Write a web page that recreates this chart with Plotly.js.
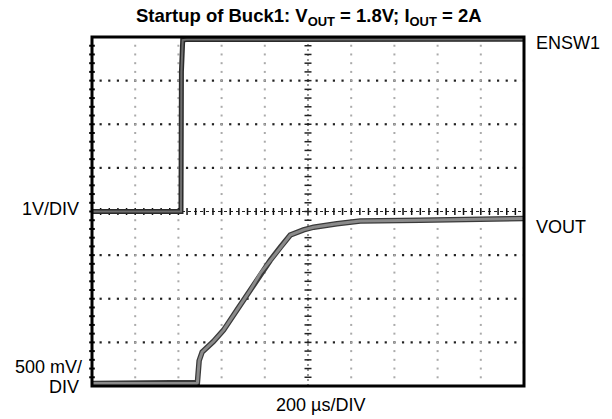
<!DOCTYPE html>
<html><head><meta charset="utf-8">
<script src="https://cdn.plot.ly/plotly-3.0.1.min.js"></script>
<style>html,body{margin:0;padding:0;background:#fff;}#c{width:612px;height:419px;}</style>
</head><body><div id="c"></div>
<script>
// Time base and channel scales
const TIME_PER_DIV = 200;          // µs/DIV
const ENSW1_SCALE = 1;             // V/DIV
const ENSW1_ZERO_DIV = 4;          // ground marker of ENSW1 (divisions from bottom)
const VOUT_SCALE = 0.5;            // V/DIV
const VOUT_ZERO_DIV = 0.06;        // ground marker of VOUT (divisions from bottom)

// ENSW1 waveform (µs, V)
const ensw1Time = [0, 412, 414, 420, 438, 2000];
const ensw1Volt = [0, 0, 3.2, 3.93, 3.94, 3.95];

// VOUT waveform (µs, V)
const voutTime = [0, 484, 488, 496, 510, 562, 609, 671, 733, 779, 825, 872, 918, 979, 1026, 1134, 1242, 1519, 2000];
const voutVolt = [0, 0, 0.01, 0.26, 0.36, 0.48, 0.61, 0.84, 1.07, 1.26, 1.41, 1.56, 1.70, 1.76, 1.79, 1.83, 1.86, 1.87, 1.89];

// Text
const titleText = 'Startup of Buck1: V<sub>OUT</sub> = 1.8V; I<sub>OUT</sub> = 2A';
const ensw1Label = 'ENSW1';
const voutLabel = 'VOUT';
const ensw1ScaleLabel = '1V/DIV';
const voutScaleLabel1 = '500 mV/';
const voutScaleLabel2 = 'DIV';
const timeLabel = '200 µs/DIV';

const NX = 10, NY = 8, SUB = 5;
const xmax = NX * TIME_PER_DIV;

const ensw1Div = ensw1Volt.map(v => v / ENSW1_SCALE + ENSW1_ZERO_DIV);
const voutDiv = voutVolt.map(v => v / VOUT_SCALE + VOUT_ZERO_DIV);

// graticule dots
const hx = [], hy = [], vx = [], vy = [];
for (let j = 1; j < NY; j++) {
  if (j === NY / 2) continue;
  for (let k = 0; k <= NX * SUB; k++) { hx.push(k * TIME_PER_DIV / SUB); hy.push(j); }
}
for (let i = 1; i < NX; i++) {
  if (i === NX / 2) continue;
  for (let k = 0; k <= NY * SUB; k++) { vx.push(i * TIME_PER_DIV); vy.push(k / SUB); }
}
const cxh = [], cyh = [], cxv = [], cyv = [];
for (let k = 0; k <= NX * SUB; k++) { cxh.push(k * TIME_PER_DIV / SUB); cyh.push(NY / 2); }
for (let k = 0; k <= NY * SUB; k++) { cxv.push(NX / 2 * TIME_PER_DIV); cyv.push(k / SUB); }
const lx = [], ly = [];
for (let k = 1; k < NY * SUB; k++) { lx.push(0); ly.push(k / SUB); }

const traces = [
  {x: hx, y: hy, mode: 'markers', type: 'scatter',
   marker: {symbol: 'square', size: 2.2, color: '#222'}, hoverinfo: 'skip'},
  {x: vx, y: vy, mode: 'markers', type: 'scatter',
   marker: {symbol: 'square', size: 2, color: '#aaa'}, hoverinfo: 'skip'},
  {x: [0, xmax], y: [NY/2, NY/2], mode: 'lines', type: 'scatter',
   line: {color: '#222', width: 1.2, dash: '3px,3px'}, hoverinfo: 'skip'},
  {x: cxh, y: cyh, mode: 'markers', type: 'scatter',
   marker: {symbol: 'line-ns-open', size: 5, color: '#111', line: {width: 1.5, color: '#111'}}, hoverinfo: 'skip'},
  {x: [xmax/2, xmax/2], y: [0, NY], mode: 'lines', type: 'scatter',
   line: {color: '#555', width: 1.2, dash: '2px,3px'}, hoverinfo: 'skip'},
  {x: cxv, y: cyv, mode: 'markers', type: 'scatter',
   marker: {symbol: 'line-ew-open', size: 5, color: '#222', line: {width: 1.5, color: '#222'}}, hoverinfo: 'skip'},
  {x: lx, y: ly, mode: 'markers', type: 'scatter', cliponaxis: false,
   marker: {symbol: 'line-ew-open', size: 4, color: '#000', line: {width: 2, color: '#000'}}, hoverinfo: 'skip'},
  // ENSW1
  {x: ensw1Time, y: ensw1Div, mode: 'lines', type: 'scatter', cliponaxis: false,
   line: {color: '#2a2a2a', width: 5, shape: 'linear'}, hoverinfo: 'skip'},
  {x: ensw1Time, y: ensw1Div, mode: 'lines', type: 'scatter', cliponaxis: false,
   line: {color: '#6e6e6e', width: 2}, hoverinfo: 'skip'},
  // VOUT
  {x: voutTime, y: voutDiv, mode: 'lines', type: 'scatter', cliponaxis: false,
   line: {color: '#3a3a3a', width: 5.5}, hoverinfo: 'skip'},
  {x: voutTime, y: voutDiv, mode: 'lines', type: 'scatter', cliponaxis: false,
   line: {color: '#8a8a8a', width: 3}, hoverinfo: 'skip'}
];

const PL = 92, PR = 524, PT = 37, PB = 386;
const px = X => (X - PL) / (PR - PL);
const py = Y => (PB - Y) / (PB - PT);
const lblFont = {family: 'Liberation Sans, Arial, sans-serif', size: 18, color: '#000'};

const layout = {
  width: 612, height: 419,
  margin: {l: PL, r: 612 - PR, t: PT, b: 419 - PB, pad: 0},
  paper_bgcolor: '#fff', plot_bgcolor: '#fff',
  showlegend: false,
  xaxis: {range: [0, xmax], showgrid: false, zeroline: false, showticklabels: false, ticks: '', fixedrange: true},
  yaxis: {range: [0, NY], showgrid: false, zeroline: false, showticklabels: false, ticks: '', fixedrange: true},
  shapes: [
    {type: 'rect', xref: 'paper', yref: 'paper', x0: 0, x1: 1, y0: 0, y1: 1,
     line: {color: '#000', width: 3}, layer: 'above'}
  ],
  annotations: [
    {text: titleText, xref: 'paper', yref: 'paper', x: px(309), y: py(17), xanchor: 'center', yanchor: 'middle',
     showarrow: false, font: {family: 'Liberation Sans, Arial, sans-serif', size: 18.5, color: '#000', weight: 'bold'}},
    {text: ensw1Label, xref: 'paper', yref: 'paper', x: px(534), y: py(43.5), xanchor: 'left', yanchor: 'middle', showarrow: false, font: lblFont},
    {text: voutLabel, xref: 'paper', yref: 'paper', x: px(534), y: py(226.5), xanchor: 'left', yanchor: 'middle', showarrow: false, font: lblFont},
    {text: ensw1ScaleLabel, xref: 'paper', yref: 'paper', x: px(81), y: py(209), xanchor: 'right', yanchor: 'middle', showarrow: false, font: lblFont},
    {text: voutScaleLabel1, xref: 'paper', yref: 'paper', x: px(84), y: py(367), xanchor: 'right', yanchor: 'middle', showarrow: false, font: lblFont},
    {text: voutScaleLabel2, xref: 'paper', yref: 'paper', x: px(81), y: py(387), xanchor: 'right', yanchor: 'middle', showarrow: false, font: lblFont},
    {text: timeLabel, xref: 'paper', yref: 'paper', x: px(320), y: py(405), xanchor: 'center', yanchor: 'middle', showarrow: false, font: lblFont}
  ]
};

Plotly.newPlot('c', traces, layout, {staticPlot: true, displayModeBar: false});
</script>
</body></html>
